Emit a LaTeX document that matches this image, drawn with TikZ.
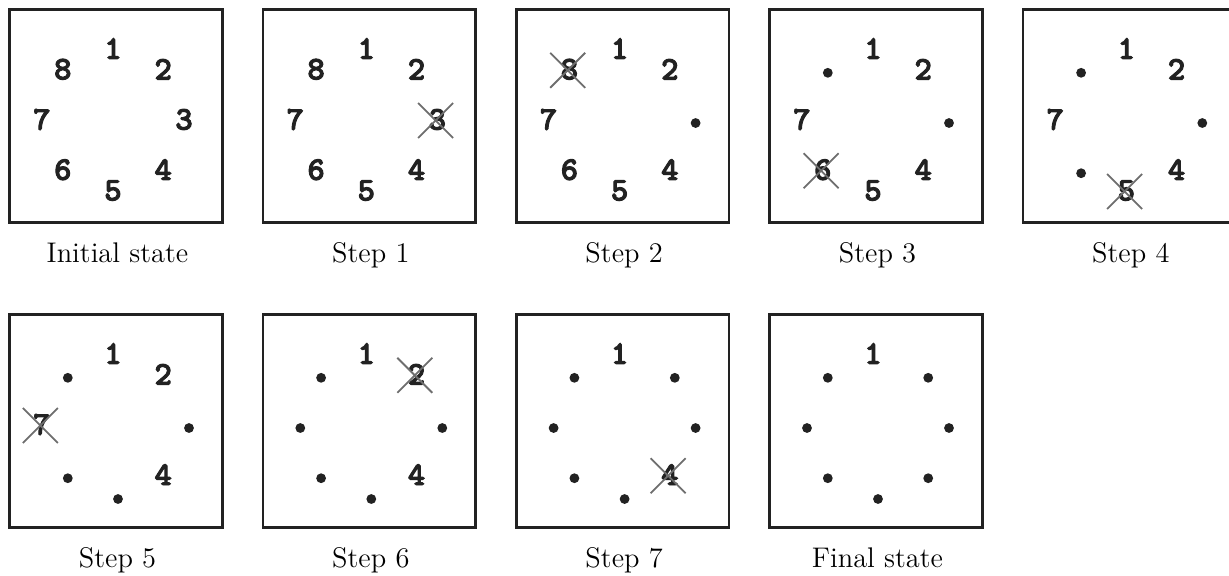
\documentclass[tikz,border=0pt]{standalone}
\usepackage{fontspec}
\newfontfamily\numfont[FakeBold=3]{lmmonolt10-bold.otf}
\usetikzlibrary{shapes.misc}
\definecolor{boxc}{HTML}{222222}
\definecolor{numc}{HTML}{222222}
\definecolor{crossc}{HTML}{6E6E6E}
\tikzset{
  panelbox/.style={draw=boxc, line width=1.35pt, minimum width=106.3pt, minimum height=106.3pt, inner sep=0pt},
  num/.style={font=\fontsize{16.5}{19}\selectfont\numfont, text=numc, inner sep=0pt},
  pt/.style={circle, fill=numc, inner sep=0pt, minimum size=4.9pt},
  crossed/.style={cross out, draw=crossc, line width=0.9pt, minimum size=16.6pt, inner sep=0pt},
  caption/.style={font=\fontsize{14.2}{17}\selectfont, anchor=base, inner sep=0pt},
}
% #1 name, #2 centre x, #3 centre y, #4 caption, #5 states (n digit, d dot, x crossed digit)
\newcommand\drawpanel[5]{%
  \node[panelbox] (#1) at (#2,#3) {};
  \node[caption] (#1-cap) at (#2+1.5,#3+146) {#4};
  \foreach \k/\st in {#5} {
    \pgfmathsetmacro\dx{#2+2+71*cos(90-(\k-1)*45)}
    \pgfmathsetmacro\dy{#3+7-71*sin(90-(\k-1)*45)}
    \if\st d\node[pt] (#1-\k) at (\dx,\dy) {};\fi
    \if\st n\node[num] (#1-\k) at (\dx-5,\dy-3.5) {\k};\fi
    \if\st x\node[num] (#1-\k) at (\dx-5,\dy-3.5) {\k};
      \node[crossed] (#1-x\k) at (\dx-6.7,\dy-2.5) {};\fi
  }%
}
\begin{document}
\begin{tikzpicture}[x=0.5pt,y=-0.5pt]
\useasboundingbox (0,0) rectangle (1229,575);
\clip (0,0) rectangle (1229,575);
\drawpanel{p0}{116}{116}{Initial state}{1/n,2/n,3/n,4/n,5/n,6/n,7/n,8/n}
\drawpanel{p1}{369.3}{116}{Step 1}{1/n,2/n,3/x,4/n,5/n,6/n,7/n,8/n}
\drawpanel{p2}{622.6}{116}{Step 2}{1/n,2/n,3/d,4/n,5/n,6/n,7/n,8/x}
\drawpanel{p3}{876}{116}{Step 3}{1/n,2/n,3/d,4/n,5/n,6/x,7/n,8/d}
\drawpanel{p4}{1129.3}{116}{Step 4}{1/n,2/n,3/d,4/n,5/x,6/d,7/n,8/d}
\drawpanel{p5}{116}{421}{Step 5}{1/n,2/n,3/d,4/n,5/d,6/d,7/x,8/d}
\drawpanel{p6}{369.3}{421}{Step 6}{1/n,2/x,3/d,4/n,5/d,6/d,7/d,8/d}
\drawpanel{p7}{622.6}{421}{Step 7}{1/n,2/d,3/d,4/x,5/d,6/d,7/d,8/d}
\drawpanel{p8}{876}{421}{Final state}{1/n,2/d,3/d,4/d,5/d,6/d,7/d,8/d}
\end{tikzpicture}
\end{document}
